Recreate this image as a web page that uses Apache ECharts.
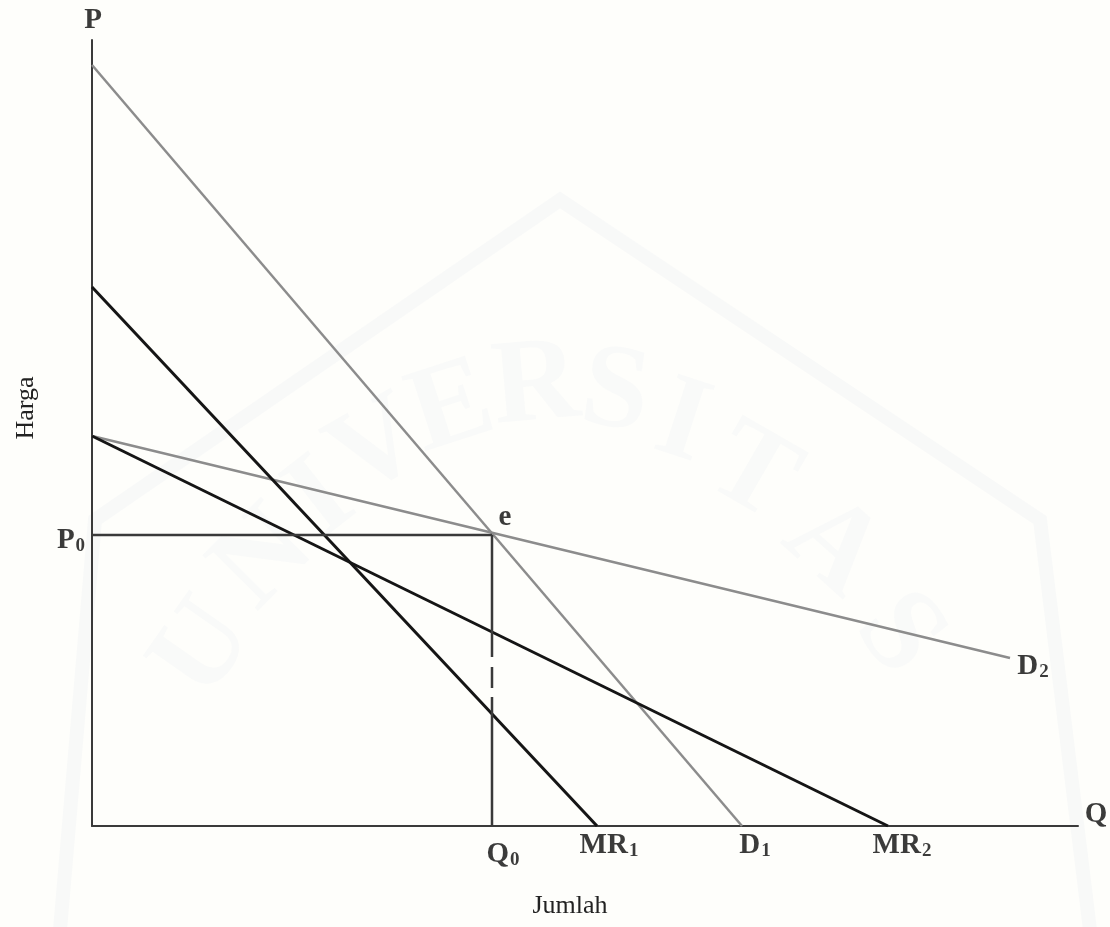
<!DOCTYPE html>
<html>
<head>
<meta charset="utf-8">
<title>Harga - Jumlah</title>
<script src="https://cdn.jsdelivr.net/npm/echarts@6/dist/echarts.min.js"></script>
<style>
  html, body { margin: 0; background: #fefefb; }
  #chart { width: 1110px; height: 927px; }
</style>
</head>
<body>
<div id="chart"></div>
<script>
// axis ranges (arbitrary units)
const qMax = 986;
const pMax = 786;

// curves: [Q, P] endpoints
const d1 = [[0, 761], [650, 0]];
const mr1 = [[0, 539], [505, 0]];
const d2 = [[0, 390], [918, 168]];
const mr2 = [[0, 390], [796, 0]];

// equilibrium and guides
const eq = [400, 291];
const p0Line = [[0, 291], [400, 291]];
const q0Upper = [[400, 291], [400, 169]];
const q0Dash = [[400, 159], [400, 138]];
const q0Lower = [[400, 129], [400, 0]];

const serif = '"Liberation Serif", "DejaVu Serif", serif';
const black = '#151515';
const gray = '#8c8c8c';
const axisColor = '#3a3a3a';

const rich = {
  b: { fontFamily: serif, fontWeight: 'bold', fontSize: 29, color: '#0a0a0a' },
  s: { fontFamily: serif, fontWeight: 'bold', fontSize: 19, color: '#0a0a0a', padding: [10, 0, 0, 1] }
};

function lbl(point, text, offset) {
  return {
    value: point,
    label: { show: true, position: 'inside', formatter: text, offset: offset, color: '#0a0a0a', rich: rich }
  };
}

function seg(name, data, color, width) {
  return {
    name: name,
    type: 'line',
    data: data,
    symbol: 'none',
    silent: true,
    lineStyle: { color: color, width: width },
    z: 3
  };
}

// faint watermark letters along an arc
const wmLetters = [
  ['U', 205, 650, 55], ['N', 265, 560, 45], ['I', 322, 500, 38], ['V', 378, 450, 30],
  ['E', 452, 410, 18], ['R', 536, 388, 5], ['S', 615, 395, -8], ['I', 682, 425, -18],
  ['T', 752, 475, -30], ['A', 832, 548, -42], ['S', 898, 635, -52]
];

const chart = echarts.init(document.getElementById('chart'), null, { renderer: 'canvas' });

chart.setOption({
  backgroundColor: '#fefefb',
  animation: false,
  graphic: [
    {
      type: 'polyline',
      silent: true,
      z: -10,
      shape: { points: [[60, 930], [95, 520], [560, 200], [1040, 520], [1090, 930]] },
      style: { fill: 'rgba(0,0,0,0)', stroke: 'rgba(205,210,230,0.12)', lineWidth: 14 }
    }
  ].concat(wmLetters.map(function (w) {
    return {
      type: 'text',
      silent: true,
      z: -9,
      x: w[1], y: w[2],
      rotation: w[3] * Math.PI / 180,
      style: {
        text: w[0],
        fontFamily: serif, fontWeight: 'bold', fontSize: 120,
        fill: 'rgba(205,210,230,0.09)',
        align: 'center', verticalAlign: 'middle'
      }
    };
  })),
  grid: { left: 92, right: 32, top: 40, bottom: 101, containLabel: false, outerBoundsMode: 'none' },
  xAxis: {
    type: 'value', min: 0, max: qMax,
    name: 'Jumlah', nameLocation: 'middle', nameGap: 67,
    nameTextStyle: { fontFamily: serif, fontSize: 26, color: '#222', padding: [0, 30, 0, 0] },
    axisLine: { show: true, onZero: false, lineStyle: { color: axisColor, width: 2 } },
    axisTick: { show: false }, axisLabel: { show: false }, splitLine: { show: false }
  },
  yAxis: {
    type: 'value', min: 0, max: pMax,
    name: 'Harga', nameLocation: 'middle', nameGap: 53, nameRotate: 90,
    nameTextStyle: { fontFamily: serif, fontSize: 26, color: '#222', padding: [0, 0, 0, 50] },
    axisLine: { show: true, onZero: false, lineStyle: { color: axisColor, width: 2 } },
    axisTick: { show: false }, axisLabel: { show: false }, splitLine: { show: false }
  },
  series: [
    seg('D1', d1, gray, 2.5),
    seg('D2', d2, gray, 2.5),
    seg('MR1', mr1, black, 3),
    seg('MR2', mr2, black, 3),
    seg('P0', p0Line, axisColor, 2.5),
    seg('Q0a', q0Upper, axisColor, 2.5),
    seg('Q0b', q0Dash, axisColor, 2.5),
    seg('Q0c', q0Lower, axisColor, 2.5),
    {
      name: 'labels',
      type: 'scatter',
      symbolSize: 0,
      silent: true,
      z: 5,
      data: [
        lbl([0, pMax], '{b|P}', [1, -19]),
        lbl([qMax, 0], '{b|Q}', [18, -11]),
        lbl(p0Line[0], '{b|P}{s|0}', [-21, 6]),
        lbl(eq, '{b|e}', [13, -17]),
        lbl(q0Lower[1], '{b|Q}{s|0}', [11, 29]),
        lbl(mr1[1], '{b|MR}{s|1}', [12, 20]),
        lbl(d1[1], '{b|D}{s|1}', [13, 20]),
        lbl(mr2[1], '{b|MR}{s|2}', [14, 20]),
        lbl(d2[1], '{b|D}{s|2}', [23, 9])
      ]
    }
  ]
});
</script>
</body>
</html>
